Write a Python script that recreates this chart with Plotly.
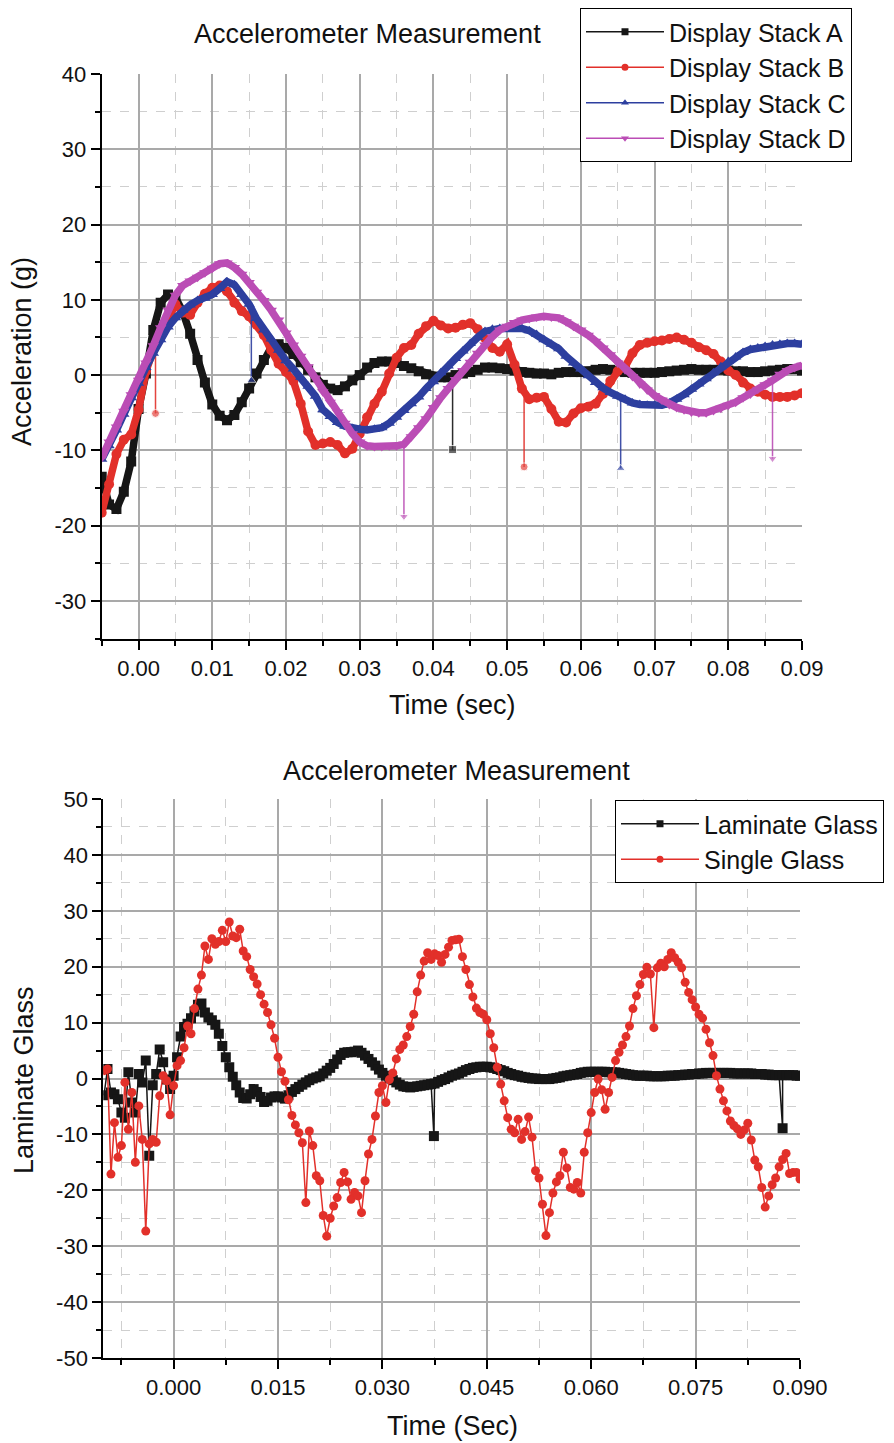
import plotly.graph_objects as go

# ---------------- upper panel: display stacks, one sample per ms ----------------
T0_TOP = -0.005
DT_TOP = 0.001

stack_a = [
    -13.5, -17.2, -17.8, -15.5, -11.5, -4.5, 0.2, 6.0, 9.6, 10.7,      # -0.005
    10.3, 8.4, 5.5, 2.0, -1.0, -3.9, -5.4, -6.0, -5.3, -3.6,           # 0.005
    -1.8, 0.2, 2.0, 3.7, 4.1, 3.6, 2.8, 1.7, 0.7, -0.3,                # 0.015
    -1.3, -1.8, -2.0, -1.5, -0.7, 0.0, 1.0, 1.6, 1.8, 1.8,             # 0.025
    1.6, 1.2, 0.9, 0.5, 0.1, -0.2, -0.3, -0.3, 0.0, 0.2,               # 0.035
    0.4, 0.7, 1.0, 1.0, 0.9, 0.8, 0.6, 0.4, 0.3, 0.2,                  # 0.045
    0.2, 0.1, 0.3, 0.4, 0.4, 0.4, 0.5, 0.7, 0.8, 0.7,                  # 0.055
    0.5, 0.4, 0.3, 0.3, 0.3, 0.3, 0.4, 0.5, 0.6, 0.7,                  # 0.065
    0.8, 0.7, 0.7, 0.7, 0.7, 0.6, 0.5, 0.5, 0.4, 0.4,                  # 0.075
    0.5, 0.6, 0.7, 0.8, 0.8, 0.6,                                      # 0.085
]
stack_b = [
    -18.3, -14.5, -10.5, -8.6, -7.9, -4.6, 0.5, 3.3, 5.7, 7.4,
    9.4, 8.3, 8.0, 9.6, 10.8, 11.6, 11.9, 11.1, 9.6, 8.5,
    7.8, 6.7, 5.3, 3.3, 1.5, 0.4, -0.8, -3.8, -7.5, -9.3,
    -9.1, -8.9, -9.3, -10.4, -9.8, -7.8, -5.6, -3.8, -2.2, 0.2,
    2.3, 3.6, 4.0, 5.5, 6.5, 7.2, 6.6, 6.2, 6.3, 6.7,
    6.9, 6.1, 4.9, 3.6, 3.1, 4.1, 1.4, -1.8, -3.2, -3.0,
    -2.9, -4.5, -6.2, -6.3, -5.1, -4.4, -4.2, -3.8, -2.5, -0.8,
    0.5, 1.1, 2.9, 4.0, 4.3, 4.5, 4.6, 4.8, 5.0, 4.7,
    4.3, 3.7, 3.3, 2.8, 1.8, 0.6, 0.0, -1.0, -1.8, -2.2,
    -2.6, -2.9, -2.9, -2.9, -2.7, -2.4,
]
stack_c = [
    -11.2, -9.4, -7.3, -5.2, -3.0, -1.1, 1.0, 2.9, 4.7, 6.4,
    7.6, 8.6, 9.3, 9.9, 10.2, 10.7, 11.5, 12.4, 12.0, 10.7,
    9.4, 7.5, 6.0, 4.8, 3.3, 1.9, 0.8, -0.3, -1.5, -2.8,
    -4.6, -5.5, -6.3, -6.8, -7.1, -7.2, -7.3, -7.2, -7.0, -6.4,
    -5.6, -4.7, -3.8, -2.9, -1.8, -0.9, 0.3, 1.2, 2.2, 3.2,
    4.2, 5.0, 5.8, 6.1, 6.2, 6.2, 6.2, 6.2, 5.9, 5.4,
    4.7, 4.1, 3.5, 2.5, 1.6, 0.8, -0.1, -1.0, -1.7, -2.3,
    -2.8, -3.2, -3.7, -3.9, -4.0, -4.0, -4.0, -3.7, -3.2, -2.6,
    -1.9, -1.2, -0.5, 0.3, 1.1, 1.8, 2.4, 3.0, 3.4, 3.6,
    3.8, 4.0, 4.1, 4.2, 4.2, 4.1,
]
stack_d = [
    -11.0, -8.9, -6.9, -4.8, -2.6, -0.7, 1.6, 3.9, 6.3, 8.6,
    10.6, 11.9, 12.5, 13.0, 13.6, 14.2, 14.8, 14.9, 14.3, 13.4,
    12.3, 11.0, 9.9, 8.6, 7.3, 5.6, 4.0, 2.5, 1.1, -0.4,
    -2.2, -3.6, -4.9, -6.4, -7.8, -8.9, -9.4, -9.5, -9.5, -9.4,
    -9.4, -9.2, -8.2, -7.0, -5.8, -4.3, -3.0, -1.8, -0.6, 0.6,
    1.7, 2.9, 4.0, 5.1, 6.0, 6.5, 7.0, 7.3, 7.5, 7.7,
    7.8, 7.7, 7.6, 7.1, 6.5, 6.0, 5.3, 4.5, 3.6, 2.7,
    1.6, 0.7, -0.2, -1.2, -2.0, -2.7, -3.3, -3.9, -4.3, -4.6,
    -4.9, -5.0, -5.0, -4.7, -4.4, -4.0, -3.6, -3.0, -2.5, -1.9,
    -1.3, -0.7, 0.1, 0.6, 1.0, 1.3,
]

# single-sample dropouts: (time, level just before, dropout value)
drops_a = [(0.0426, -0.2, -9.9)]
drops_b = [(0.0023, 3.6, -5.1), (0.0523, -2.8, -12.2)]
drops_c = [(0.0153, 8.7, -0.7), (0.0654, -3.0, -12.4)]
drops_d = [(0.0360, -9.3, -18.8), (0.0860, -0.7, -11.1)]

stack_names = ["Display Stack A", "Display Stack B", "Display Stack C", "Display Stack D"]

# ---------------- lower panel: glass comparison, one sample per 0.5 ms ----------------
T0_BOT = -0.0100
DT_BOT = 0.0005

laminate = [
    -3.0, 1.7, -2.5, -2.8, -3.7, -6.1, -7.0, 1.1, -4.3, -6.1,          # -0.0100
    0.8, -0.7, 3.2, -13.8, -1.2, 0.8, 5.2, 2.9, -0.2, -1.9,            # -0.0050
    0.5, 3.8, 7.5, 9.2, 9.8, 10.8, 12.0, 13.2, 13.4, 11.8,             # 0.0000
    10.9, 10.4, 9.6, 8.0, 5.8, 3.8, 2.0, 0.3, -1.2, -2.5,              # 0.0050
    -3.5, -3.6, -2.8, -1.9, -2.4, -3.3, -4.2, -4.0, -3.4, -3.2,        # 0.0100
    -3.2, -3.4, -3.6, -3.0, -2.4, -1.9, -1.5, -1.1, -0.7, -0.3,        # 0.0150
    0.0, 0.2, 0.4, 0.9, 1.4, 1.9, 2.6, 3.4, 4.2, 4.6,                  # 0.0200
    4.7, 4.7, 4.8, 5.0, 4.6, 4.1, 3.5, 2.9, 2.3, 1.6,                  # 0.0250
    1.0, 0.5, 0.0, -0.3, -0.7, -1.1, -1.4, -1.5, -1.6, -1.5,           # 0.0300
    -1.4, -1.3, -1.2, -1.1, -1.0, -0.9, -0.6, -0.3, -0.1, 0.2,         # 0.0350
    0.5, 0.7, 0.9, 1.2, 1.5, 1.7, 1.9, 2.0, 2.1, 2.1,                  # 0.0400
    2.1, 2.0, 1.9, 1.7, 1.5, 1.3, 1.0, 0.8, 0.6, 0.5,                  # 0.0450
    0.3, 0.2, 0.1, 0.0, 0.0, -0.1, -0.1, -0.1, -0.1, 0.0,              # 0.0500
    0.1, 0.2, 0.4, 0.5, 0.6, 0.7, 0.8, 1.0, 1.1, 1.2,                  # 0.0550
    1.2, 1.2, 1.2, 1.2, 1.2, 1.1, 1.1, 1.1, 1.0, 0.9,                  # 0.0600
    0.8, 0.7, 0.6, 0.5, 0.5, 0.5, 0.5, 0.4, 0.4, 0.4,                  # 0.0650
    0.4, 0.4, 0.5, 0.5, 0.5, 0.6, 0.6, 0.7, 0.7, 0.8,                  # 0.0700
    0.8, 0.9, 0.9, 1.0, 1.0, 1.0, 1.0, 1.0, 1.0, 1.0,                  # 0.0750
    1.0, 0.9, 0.9, 0.9, 0.9, 0.9, 0.9, 0.8, 0.8, 0.8,                  # 0.0800
    0.7, 0.7, 0.6, 0.6, 0.6, 0.6, 0.6, 0.6, 0.6, 0.5,                  # 0.0850
    0.5,                                                               # 0.0900
]
single = [
    1.4, 1.7, -17.1, -7.9, -14.1, -12.0, -0.7, -9.1, -2.5, -15.0,
    -4.9, -10.9, -27.3, -11.7, -10.9, -11.4, -3.1, 0.5, -0.4, -6.5,
    -1.3, 2.3, 3.2, 5.5, 9.4, 8.0, 12.5, 16.0, 18.5, 23.7,
    21.3, 25.0, 24.0, 24.5, 26.5, 24.5, 28.0, 25.5, 25.2, 26.7,
    22.8, 21.8, 19.5, 18.2, 16.9, 15.0, 13.3, 11.8, 9.6, 7.2,
    3.8, 1.2, -0.5, -3.8, -6.6, -8.3, -9.7, -11.5, -22.2, -9.4,
    -12.0, -17.4, -18.3, -24.5, -28.2, -25.0, -22.8, -21.3, -18.6, -16.8,
    -18.5, -21.6, -20.4, -21.0, -24.0, -18.3, -13.5, -10.9, -6.7, -2.5,
    -1.3, -4.3, -0.2, 1.0, 3.5, 5.2, 6.0, 7.5, 9.3, 11.5,
    15.5, 18.5, 21.0, 22.5, 21.3, 22.3, 22.0, 20.8, 22.2, 23.5,
    24.7, 24.8, 24.9, 21.8, 19.5, 16.8, 14.6, 12.6, 11.8, 11.5,
    10.5, 8.0, 5.5, 2.0, -1.0, -4.0, -7.0, -9.1, -9.7, -7.3,
    -10.9, -9.5, -6.9, -10.5, -16.5, -17.8, -22.5, -28.1, -24.0, -20.5,
    -18.5, -17.4, -13.2, -16.0, -19.5, -19.8, -18.6, -20.5, -13.2, -9.7,
    -6.1, -2.5, -0.1, -2.0, -5.5, -2.5, 0.2, 3.2, 4.7, 6.0,
    7.5, 9.4, 12.5, 14.8, 16.8, 18.6, 19.9, 18.7, 9.1, 19.8,
    20.6, 20.0, 21.3, 22.5, 21.6, 20.8, 19.8, 17.2, 15.4, 14.1,
    12.8, 11.5, 10.8, 8.8, 6.4, 4.1, 0.5, -1.9, -4.0, -5.8,
    -7.6, -8.4, -9.0, -10.0, -9.2, -8.0, -11.0, -14.6, -15.8, -19.5,
    -23.0, -21.0, -19.0, -17.8, -15.8, -14.5, -13.4, -17.0, -16.8, -16.8,
    -18.0,
]
laminate_drops = [(0.0374, -10.3), (0.0875, -8.9)]
glass_names = ["Laminate Glass", "Single Glass"]

# axis ticks
top_xticks = [0.00, 0.01, 0.02, 0.03, 0.04, 0.05, 0.06, 0.07, 0.08, 0.09]
top_yticks = [-30, -20, -10, 0, 10, 20, 30, 40]
bot_xticks = [0.000, 0.015, 0.030, 0.045, 0.060, 0.075, 0.090]
bot_yticks = [-50, -40, -30, -20, -10, 0, 10, 20, 30, 40, 50]

# ---------------- styling ----------------
W, H = 894, 1443
FONT = "Liberation Sans, Arial, sans-serif"
BLACK = "#161616"
RED = "#e2302a"
BLUE = "#2d3f9f"
PURPLE = "#bb4db5"
GRID = "#a9a9a9"
MINOR_GRID = "#cfcfcf"

colors = [BLACK, RED, BLUE, PURPLE]
symbols = ["square", "circle", "triangle-up", "triangle-down"]


def px_x(p):
    return p / W


def px_y(p):
    return 1 - p / H


def sample_times(t0, dt, n):
    return [round(t0 + i * dt, 6) for i in range(n)]


fig = go.Figure()

# upper panel traces
stacks = [stack_a, stack_b, stack_c, stack_d]
drops = [drops_a, drops_b, drops_c, drops_d]
for name, vals, col, sym, dr in zip(stack_names, stacks, colors, symbols, drops):
    t = sample_times(T0_TOP, DT_TOP, len(vals))
    fig.add_trace(go.Scatter(
        x=t, y=vals, mode="lines+markers", name=name, showlegend=False,
        line=dict(color=col, width=7.5), marker=dict(symbol=sym, size=10, color=col),
        xaxis="x", yaxis="y"))
    for ts, base, low in dr:
        fig.add_trace(go.Scatter(
            x=[ts, ts], y=[base, low], mode="lines+markers", showlegend=False,
            line=dict(color=col, width=1.5), opacity=0.9,
            marker=dict(symbol=sym, size=[0, 8], color=col),
            xaxis="x", yaxis="y"))
    # legend sample
    fig.add_trace(go.Scatter(
        x=[None], y=[None], mode="lines+markers", name=name, legend="legend",
        line=dict(color=col, width=1.5), marker=dict(symbol=sym, size=7, color=col),
        xaxis="x", yaxis="y"))

# lower panel traces
t_lam = sample_times(T0_BOT, DT_BOT, len(laminate))
lam_pts = sorted(list(zip(t_lam, laminate)) + laminate_drops)
fig.add_trace(go.Scatter(
    x=[p[0] for p in lam_pts], y=[p[1] for p in lam_pts], mode="lines+markers",
    showlegend=False, line=dict(color=BLACK, width=1.5),
    marker=dict(symbol="square", size=10, color=BLACK), xaxis="x2", yaxis="y2"))
t_sgl = sample_times(T0_BOT, DT_BOT, len(single))
fig.add_trace(go.Scatter(
    x=t_sgl, y=single, mode="lines+markers", showlegend=False,
    line=dict(color=RED, width=1.5), marker=dict(symbol="circle", size=9, color=RED),
    xaxis="x2", yaxis="y2"))
for name, col, sym in zip(glass_names, [BLACK, RED], ["square", "circle"]):
    fig.add_trace(go.Scatter(
        x=[None], y=[None], mode="lines+markers", name=name, legend="legend2",
        line=dict(color=col, width=1.5), marker=dict(symbol=sym, size=7, color=col),
        xaxis="x2", yaxis="y2"))


def axis_style(tickvals, ticktext, minor_dtick, minor_tick0):
    return dict(
        tickmode="array", tickvals=tickvals, ticktext=ticktext, automargin=False,
        showline=True, linecolor="black", linewidth=2, mirror=False,
        ticks="outside", ticklen=9, tickwidth=2, tickcolor="black",
        showgrid=True, gridcolor=GRID, gridwidth=1.5, zeroline=False,
        tickfont=dict(size=22, color="#111"),
        minor=dict(dtick=minor_dtick, tick0=minor_tick0, ticks="outside", ticklen=5,
                   tickwidth=1.5, tickcolor="black", showgrid=True,
                   gridcolor=MINOR_GRID, gridwidth=1, griddash="dash"),
    )


xa = axis_style(top_xticks, [f"{v:.2f}" for v in top_xticks], 0.005, 0)
xa.update(domain=[px_x(101.7), px_x(802)], range=[-0.005, 0.09], anchor="y")
ya = axis_style(top_yticks, [str(v) for v in top_yticks], 5, 0)
ya.update(domain=[px_y(638.5), px_y(74)], range=[-35, 40], anchor="x")
xb = axis_style(bot_xticks, [f"{v:.3f}" for v in bot_xticks], 0.0075, 0)
xb.update(domain=[px_x(103.3), px_x(800)], range=[-0.0101, 0.09], anchor="y2")
yb = axis_style(bot_yticks, [str(v) for v in bot_yticks], 5, 0)
yb.update(domain=[px_y(1358), px_y(799)], range=[-50, 50], anchor="x2")

fig.update_layout(
    width=W, height=H, margin=dict(l=0, r=0, t=0, b=0, autoexpand=False),
    paper_bgcolor="white", plot_bgcolor="white",
    font=dict(family=FONT, size=22, color="#111"),
    xaxis=xa, yaxis=ya, xaxis2=xb, yaxis2=yb,
    legend=dict(x=px_x(580), y=px_y(8), xanchor="left", yanchor="top",
                bgcolor="white", bordercolor="black", borderwidth=1,
                font=dict(size=25, color="#111"), itemwidth=78, itemsizing="trace"),
    legend2=dict(x=px_x(615), y=px_y(800), xanchor="left", yanchor="top",
                 bgcolor="white", bordercolor="black", borderwidth=1,
                 font=dict(size=25, color="#111"), itemwidth=78, itemsizing="trace"),
    showlegend=True,
)

texts = [
    ("Accelerometer Measurement", 367, 34, 0),
    ("Time (sec)", 452, 705, 0),
    ("Acceleration (g)", 22, 352, -90),
    ("Accelerometer Measurement", 456, 771, 0),
    ("Time (Sec)", 452, 1426, 0),
    ("Laminate Glass", 24, 1080, -90),
]
for txt, cx, cy, ang in texts:
    fig.add_annotation(text=txt, x=px_x(cx), y=px_y(cy), xref="paper", yref="paper",
                       xanchor="center", yanchor="middle", showarrow=False,
                       textangle=ang, font=dict(size=27, color="#111"))

fig.write_html("out.html")
